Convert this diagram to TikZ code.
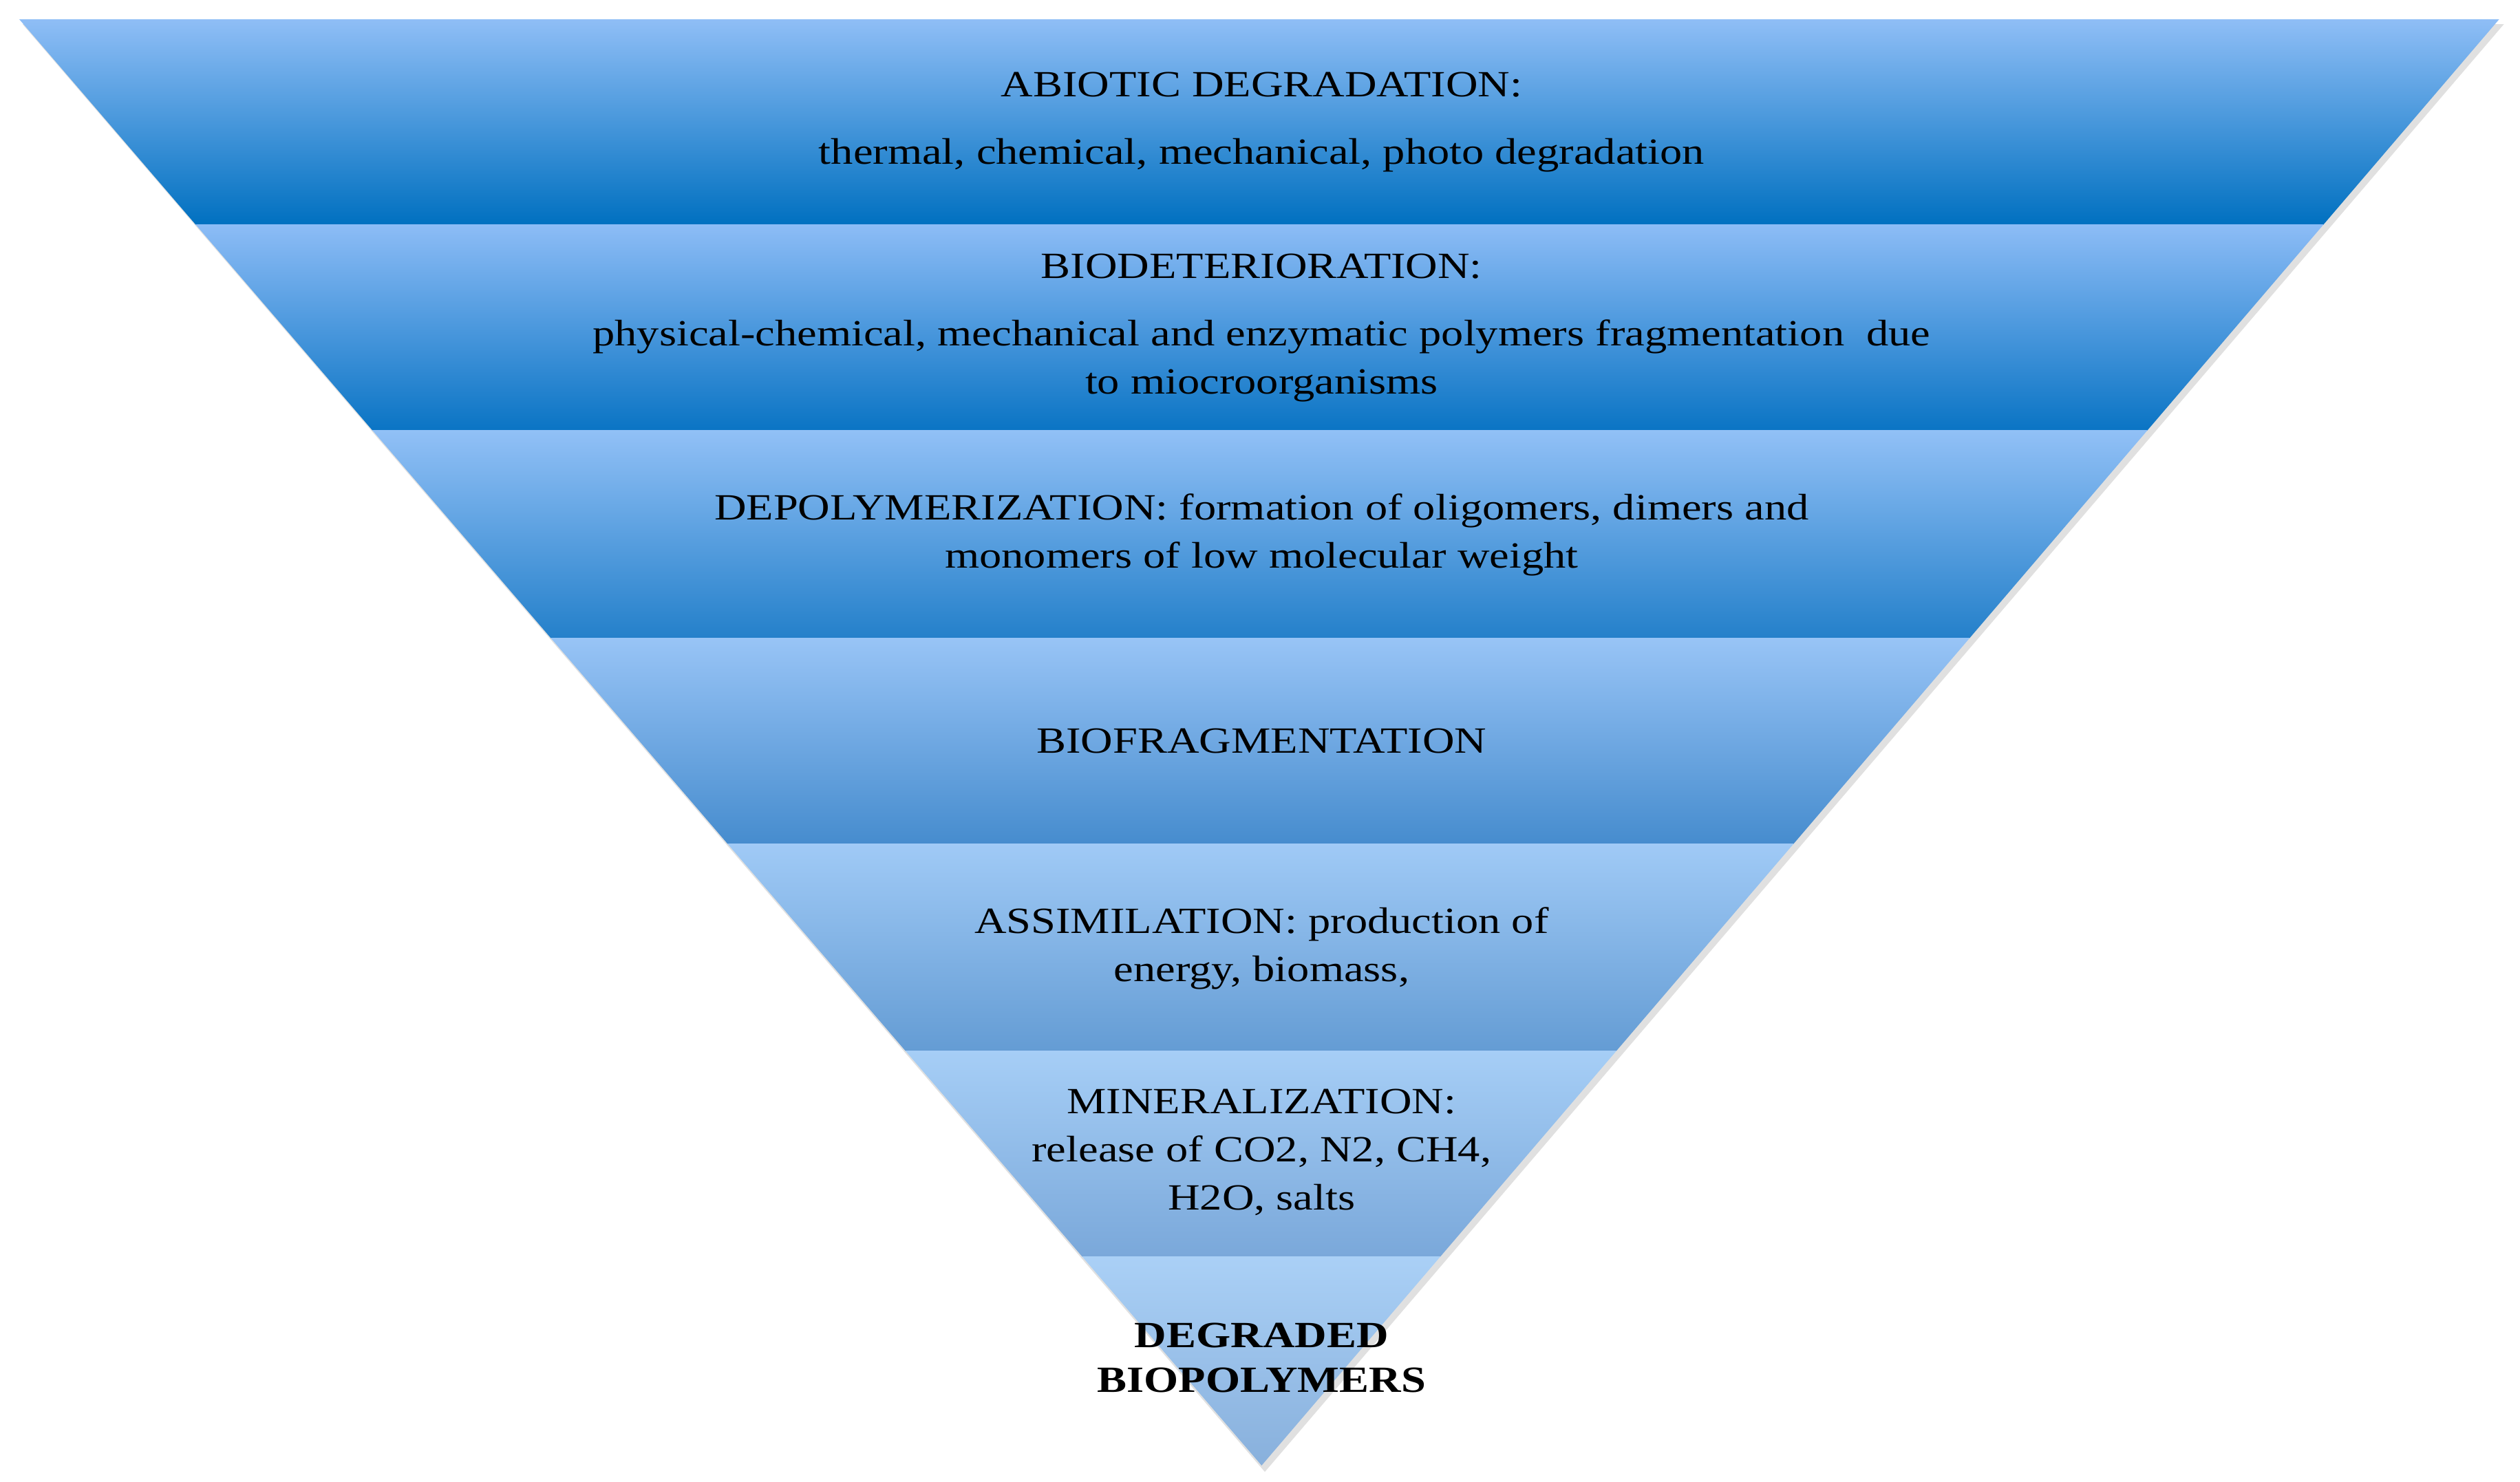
\documentclass[tikz,border=0pt]{standalone}
\usepackage{fontspec}
\setmainfont{Liberation Serif}[FakeStretch=1.2]
\begin{document}
\begin{tikzpicture}[x=1pt,y=-1pt,
  lbl/.style={align=center,font=\fontsize{23}{30}\selectfont,text=black}]
\useasboundingbox (0,0) rectangle (1568,922);
\fill[black!30,opacity=0.4] (14,15) -- (1558,15) -- (787,916) -- cycle;
\begin{scope}
\clip (12,12) -- (1555,12) -- (785,912) -- cycle;
\shade[top color={rgb,255:red,143;green,190;blue,246}, bottom color={rgb,255:red,0;green,112;blue,192}] (0,12) rectangle (1568,140);
\shade[top color={rgb,255:red,140;green,188;blue,246}, bottom color={rgb,255:red,10;green,116;blue,196}] (0,140) rectangle (1568,268);
\shade[top color={rgb,255:red,145;green,192;blue,246}, bottom color={rgb,255:red,36;green,128;blue,202}] (0,268) rectangle (1568,397);
\shade[top color={rgb,255:red,152;green,196;blue,246}, bottom color={rgb,255:red,70;green,140;blue,206}] (0,397) rectangle (1568,525);
\shade[top color={rgb,255:red,160;green,202;blue,246}, bottom color={rgb,255:red,100;green,156;blue,212}] (0,525) rectangle (1568,654);
\shade[top color={rgb,255:red,166;green,206;blue,246}, bottom color={rgb,255:red,122;green,168;blue,218}] (0,654) rectangle (1568,782);
\shade[top color={rgb,255:red,170;green,208;blue,246}, bottom color={rgb,255:red,136;green,176;blue,220}] (0,782) rectangle (1568,912);
\end{scope}
\node[lbl] (t1) at (785,76) {ABIOTIC DEGRADATION:\\[12pt]thermal, chemical, mechanical, photo degradation};
\node[lbl] (t2) at (785,204) {BIODETERIORATION:\\[12pt]physical-chemical, mechanical and enzymatic polymers fragmentation\ \ due\\to miocroorganisms};
\node[lbl] (t3) at (785,333) {DEPOLYMERIZATION: formation of oligomers, dimers and\\monomers of low molecular weight};
\node[lbl] (t4) at (785,461) {BIOFRAGMENTATION};
\node[lbl] (t5) at (785,590) {ASSIMILATION: production of\\energy, biomass,};
\node[lbl] (t6) at (785,717) {MINERALIZATION:\\release of CO2, N2, CH4,\\H2O, salts};
\node[lbl,font=\fontsize{23}{28}\selectfont\bfseries] (t7) at (785,845) {DEGRADED\\BIOPOLYMERS};
\end{tikzpicture}
\end{document}
